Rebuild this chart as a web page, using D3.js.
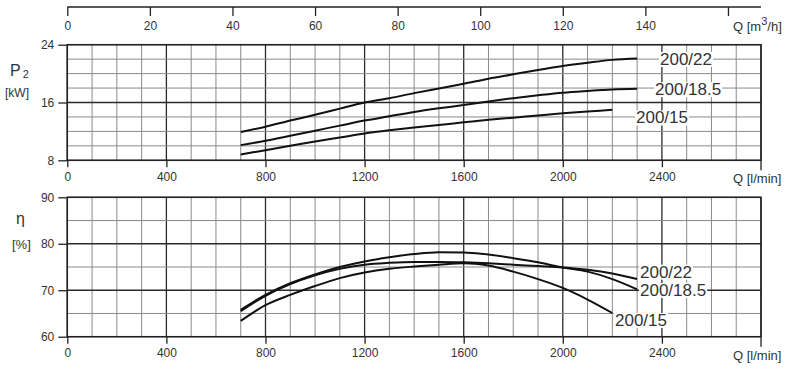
<!DOCTYPE html>
<html><head><meta charset="utf-8">
<script src="https://cdn.jsdelivr.net/npm/d3@7/dist/d3.min.js"></script>
<style>body{margin:0;background:#fff}svg{display:block}text{font-family:"Liberation Sans",Arial,sans-serif;fill:#333}</style>
</head><body><svg id="c" width="800" height="370"></svg>
<script>
// ---- data ----
const flowLpm = [700,800,900,1000,1100,1200,1300,1400,1500,1600,1700,1800,1900,2000,2100,2200,2300];
const seriesNames = ["200/22","200/18.5","200/15"];
const power22  = [11.9,12.65,13.5,14.3,15.15,16.0,16.6,17.3,17.95,18.6,19.3,19.9,20.5,21.05,21.5,21.9,22.1];
const power185 = [10.1,10.7,11.4,12.1,12.8,13.5,14.1,14.7,15.2,15.65,16.15,16.6,17.0,17.36,17.6,17.8,17.9];
const power15  = [8.8,9.4,10.0,10.6,11.15,11.7,12.15,12.55,12.9,13.25,13.6,13.9,14.2,14.5,14.75,15.0];
const eff22  = [65.5,68.8,71.3,73.2,74.6,75.5,75.9,76.1,76.1,76.0,75.8,75.5,75.2,74.9,74.4,73.6,72.4];
const eff185 = [65.8,69.0,71.5,73.4,75.0,76.2,77.1,77.8,78.2,78.1,77.7,76.9,76.0,74.9,74.0,72.4,70.2];
const eff15  = [63.4,66.8,69.0,70.9,72.6,73.8,74.6,75.1,75.5,75.8,75.3,74.0,72.4,70.5,68.0,65.1];
const qTicks = [0,400,800,1200,1600,2000,2400];
const m3hTicks = [0,20,40,60,80,100,120,140,160];
const pTicks = [8,16,24];
const eTicks = [60,70,80,90];

// ---- layout ----
const svg = d3.select("#c");
const X0 = 67.3, X1 = 761;
const x = d3.scaleLinear([0,2800],[X0,X1]);
const xm = d3.scaleLinear([0,168],[X0,X1]);
const yP = d3.scaleLinear([8,24],[160.3,44.7]);
const yE = d3.scaleLinear([60,90],[336.7,197.3]);
const fmt = d3.format("d");

// top m3/h axis
const gTop = svg.append("g").attr("transform","translate(0,7)");
gTop.call(d3.axisBottom(xm).tickValues(m3hTicks).tickSize(9).tickPadding(5).tickFormat(d=>d===160?"":fmt(d)));
gTop.select(".domain").attr("d",`M${X0},0H${X1}`).attr("stroke","#222").attr("stroke-width",1.3);
gTop.selectAll(".tick line").attr("stroke","#222").attr("stroke-width",1.3);
gTop.selectAll(".tick text").attr("font-size",12).style("font-family","Liberation Sans, Arial, sans-serif").attr("fill","#333");
const qm = svg.append("text").attr("x",733).attr("y",31).attr("font-size",13);
qm.append("tspan").text("Q [m");
qm.append("tspan").attr("dy",-6).attr("font-size",11).text("3");
qm.append("tspan").attr("dy",6).text("/h]");

function panel(y, yTicks, minorStep){
  const g = svg.append("g");
  const [lo,hi] = y.domain();
  d3.range(0,2801,100).forEach(v=>{
    const major = v%400===0;
    g.append("line").attr("x1",x(v)).attr("x2",x(v)).attr("y1",y(lo)).attr("y2",y(hi))
      .attr("stroke",major?"#2a2a2a":"#8a8a8a").attr("stroke-width",major?1.3:1);
  });
  d3.range(lo,hi+0.001,minorStep).forEach(v=>{
    const major = yTicks.includes(v);
    g.append("line").attr("x1",X0).attr("x2",X1).attr("y1",y(v)).attr("y2",y(v))
      .attr("stroke",major?"#2a2a2a":"#8a8a8a").attr("stroke-width",major?1.3:1);
  });
  g.append("rect").attr("x",X0).attr("y",y(hi)).attr("width",X1-X0).attr("height",y(lo)-y(hi))
    .attr("fill","none").attr("stroke","#222").attr("stroke-width",1.5);
  const ga = g.append("g").attr("transform",`translate(${X0},0)`)
    .call(d3.axisLeft(y).tickValues(yTicks).tickSize(9).tickPadding(4).tickFormat(fmt));
  ga.select(".domain").remove();
  ga.selectAll(".tick line").attr("stroke","#222").attr("stroke-width",1.3);
  ga.selectAll(".tick text").attr("font-size",12).style("font-family","Liberation Sans, Arial, sans-serif").attr("fill","#333");
  const gb = g.append("g").attr("transform",`translate(0,${y(lo)})`)
    .call(d3.axisBottom(x).tickValues(qTicks).tickSize(7).tickPadding(5).tickFormat(fmt));
  gb.select(".domain").remove();
  gb.selectAll(".tick line").attr("stroke","#222").attr("stroke-width",1.3);
  gb.selectAll(".tick text").attr("font-size",12).style("font-family","Liberation Sans, Arial, sans-serif").attr("fill","#333");
  g.append("line").attr("x1",X1).attr("x2",X1).attr("y1",y(lo)).attr("y2",y(lo)+10).attr("stroke","#222").attr("stroke-width",1.3);
  g.append("text").attr("x",733).attr("y",y(lo)+23).attr("font-size",13).text("Q [l/min]");
  return g;
}
const gP = panel(yP, pTicks, 2);
const gE = panel(yE, eTicks, 5);

// axis titles
const p2 = svg.append("text").attr("x",10).attr("y",76).attr("font-size",16);
p2.append("tspan").text("P");
p2.append("tspan").attr("dx",2).attr("dy",2).attr("font-size",11).text("2");
svg.append("text").attr("x",5).attr("y",97).attr("font-size",12).text("[kW]");
svg.append("text").attr("x",16).attr("y",224).attr("font-size",16).text("η");
svg.append("text").attr("x",12).attr("y",249).attr("font-size",13).text("[%]");

// curves
const line = (y)=>d3.line().x((d,i)=>x(flowLpm[i])).y(d=>y(d)).curve(d3.curveMonotoneX);
[power22,power185,power15].forEach(s=>{
  gP.append("path").attr("d",line(yP)(s)).attr("fill","none").attr("stroke","#111").attr("stroke-width",2);
});
[eff22,eff185,eff15].forEach(s=>{
  gE.append("path").attr("d",line(yE)(s)).attr("fill","none").attr("stroke","#111").attr("stroke-width",2);
});

// labels with white background
function label(g, tx, ty, txt){
  const t = g.append("text").attr("x",tx).attr("y",ty).attr("dy","0.35em").attr("font-size",17).text(txt);
  const b = t.node().getBBox();
  g.insert("rect", "text").attr("x",b.x-1).attr("y",b.y+2).attr("width",b.width+2).attr("height",b.height-4).attr("fill","#fff");
  t.raise();
}
const lg = svg.append("g");
label(lg, 660, 59, seriesNames[0]);
label(lg, 655, 89.3, seriesNames[1]);
label(lg, 636, 117.5, seriesNames[2]);
label(lg, 640, 271.7, seriesNames[0]);
label(lg, 640, 290, seriesNames[1]);
label(lg, 615, 320, seriesNames[2]);
</script></body></html>
